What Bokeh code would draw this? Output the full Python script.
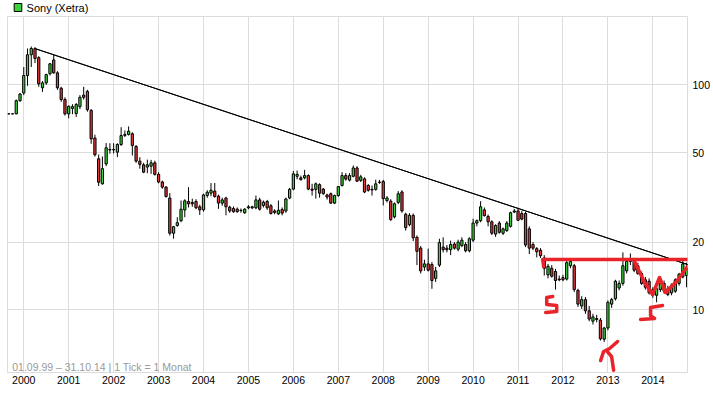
from bokeh.plotting import figure
from bokeh.layouts import column
from bokeh.models import (ColumnDataSource, Range1d, FixedTicker, PrintfTickFormatter,
                          Label, PolyAnnotation)
from bokeh.core.properties import value
from bokeh.embed import file_html
from bokeh.resources import INLINE

# ---------------- data (monthly candles, Sony on Xetra, EUR) ----------------
TITLE = "Sony (Xetra)"
START_YEAR = 1999
START_MONTH = 9   # first candle: September 1999

opens = [74.3, 74.3, 74.3, 85,
         92, 110, 136, 145, 132, 97, 102, 112, 129, 113, 96.6, 86,
         74.3, 78.5, 74.5, 80, 90, 93.5, 77, 58, 46.9, 36.3, 44.5, 51.3,
         51.6, 50.2, 54.3, 59.6, 60.2, 60.6, 53.2, 45.8, 44.1, 43.1, 43.5, 45,
         40, 37, 35.1, 31.4, 21.9, 23.7, 24.9, 27.8, 30.3, 30, 30.3, 28.7,
         27.8, 32.2, 33, 33.7, 32, 29.8, 31.4, 28.6, 28.2, 28, 27.6, 27,
         28.4, 28.4, 28.4, 30.8, 29.1, 30.3, 29, 27.5, 26.7, 27.9, 27.5, 31.4,
         34.4, 39.2, 38.6, 38.6, 39.5, 34.4, 34.3, 36, 34.4, 32.4, 32.8, 29.8,
         32.2, 35.7, 39.5, 37.7, 39.2, 42.7, 37.6, 38.2, 35.7, 34.1, 34.3, 36.8,
         37.2, 30.6, 30.4, 25.9, 30, 33.4, 26.6, 23.9, 26.3, 21, 18.8, 15.5,
         16, 15.9, 13.8, 15.8, 19, 18.8, 18.5, 19.6, 18.6, 19.3, 19.5, 18.3,
         20.4, 24.3, 24.9, 27.8, 26, 24.6, 21.7, 24.3, 21.9, 22.5, 23.5, 27.2,
         27.5, 26.8, 26.8, 22.9, 19.5, 18.7, 18.4, 17, 14.3, 15.3, 14.8, 13.7,
         13.9, 13.7, 15.7, 15.7, 12.2, 10.4, 11.1, 9.9, 8.9, 9.15, 9, 7.4,
         8.3, 10.6, 11.2, 12.5, 13.1, 14.9, 16.4, 16.4, 15.7, 14.5, 13.6, 13.4,
         12.3, 11.6, 12.3, 13.1, 12.4, 11.9, 12.1, 13.1, 14, 14.2]
highs = [74.6, 74.6, 86, 92,
         120, 145, 148, 147, 134, 104, 112, 125, 136, 115, 98, 88,
         81, 82, 83, 90, 98, 95, 78, 60, 49, 48, 55.1, 55,
         55, 55, 64.8, 62.7, 65.3, 61.5, 54, 47.7, 45, 46.5, 46.4, 46,
         40.9, 37.5, 35.5, 33, 23.6, 25.8, 30.6, 31, 35.1, 31.2, 31, 29.3,
         32.8, 34, 36.6, 36.6, 32.5, 31.5, 31.8, 29, 28.8, 28.5, 28.2, 28.3,
         29.2, 29, 32.2, 31.5, 30.6, 30.8, 29.5, 28, 30.6, 28.5, 31.5, 34.8,
         41.4, 41.6, 39.5, 41.9, 40, 36.3, 36.8, 36.5, 34.8, 32.8, 33.2, 32.5,
         35.5, 40.9, 40.5, 40.5, 43.8, 43.5, 39.8, 38.8, 36.2, 35.7, 37.9, 37.8,
         37.8, 32, 31, 30, 33.7, 34, 27, 26.9, 26.8, 21.4, 19.2, 16.7,
         18.7, 16.3, 15.5, 20.7, 21, 19.4, 20.3, 20, 20.5, 21, 20, 21,
         25.4, 25.2, 30.4, 28.5, 26.5, 25, 24, 24.8, 23.2, 24.8, 27.3, 28.1,
         28.4, 27.5, 27.2, 23.5, 20, 19, 18.8, 17.5, 16, 15.8, 15.2, 14.2,
         14.3, 16.6, 16.8, 16, 12.4, 11.5, 11.4, 10.4, 9.6, 9.5, 9.2, 8.4,
         11, 11.3, 13.6, 13.5, 18, 16.6, 17.8, 16.8, 16.2, 14.8, 14, 13.8,
         12.6, 12.6, 13.3, 13.5, 12.8, 13.1, 13.8, 14.6, 16.5, 16.2]
lows = [74.0, 74.0, 74, 84,
        90, 99, 120, 125, 98, 93, 100, 110, 112, 95, 84, 73,
        71, 74, 72, 78, 86, 76, 54.7, 48, 35.5, 36, 43.5, 49.4,
        49.5, 47.7, 53.5, 58.6, 59.5, 48.5, 45, 42.4, 40.5, 40.5, 40.2, 39.5,
        36.5, 34.5, 31.5, 21.4, 20.7, 23.4, 24.5, 25.8, 28.5, 28.7, 28, 26.4,
        27.3, 31.5, 32, 31.5, 28.1, 29, 26.3, 27, 27, 27, 27, 26.7,
        28, 28, 28, 27.6, 28.5, 27.8, 26.5, 26.6, 26.4, 26.3, 27, 31,
        34, 38, 37.5, 38, 34, 32.2, 31.2, 31.5, 32.5, 30.9, 29.5, 29.5,
        31.8, 35.3, 37.5, 37.2, 38.8, 37, 37, 33, 33.5, 32.2, 33.8, 36.3,
        29.1, 30, 24.8, 25.5, 29.5, 27, 22.5, 23.5, 20.2, 15.8, 14.5, 14.9,
        14.8, 12.4, 13.3, 15.5, 18, 18, 17.5, 18.5, 18.2, 19, 18, 18,
        20, 23.5, 24.5, 26, 23.5, 21.5, 21.1, 21.8, 21.5, 22.2, 23.2, 26.9,
        24.8, 25, 19, 17.7, 18.4, 17.1, 17, 14.2, 13.8, 13.9, 12.3, 13.4,
        13.4, 13.5, 15.3, 12, 10.3, 10.1, 9.6, 8.9, 8.6, 8.8, 7.3, 7.2,
        8.1, 10.2, 11, 12.2, 12.8, 14.5, 15.8, 14.7, 14.3, 12.9, 12.3, 11.7,
        11.3, 10.8, 12, 11.8, 11.5, 11.6, 11.9, 12.8, 13.8, 12.6]
closes = [74.3, 74.3, 85, 91,
          110, 136, 145, 131, 101, 102, 111, 124, 113, 97, 86, 74.3,
          80.3, 80, 81.7, 88, 88, 77.5, 57.5, 48.9, 36.9, 42.4, 52.5, 51.6,
          51.4, 54.3, 59.5, 60.2, 62.2, 53.7, 45.8, 44.3, 40.9, 44.1, 45, 40,
          37, 35.1, 31.9, 21.9, 23.4, 24.4, 28, 30.5, 29.6, 29.6, 28.4, 27.8,
          32.4, 33.3, 34, 31.9, 29.8, 30.8, 28.7, 27.5, 27.3, 27.3, 27.7, 28,
          28.7, 28.7, 30.8, 28, 30.1, 28.4, 26.8, 27.1, 27.7, 26.9, 31.1, 34.3,
          40.2, 40, 37.9, 39.5, 34.4, 34, 36.3, 33, 32.8, 31.7, 29.8, 32.2,
          35.3, 39.5, 38.1, 39.5, 42.7, 37.3, 39, 33.4, 34, 34.3, 36.3, 37,
          31.2, 31.4, 25.2, 29.6, 32.8, 27.5, 23.2, 26.3, 20.9, 18.2, 14.9, 16,
          15, 13.5, 14.9, 19.9, 18.5, 18.5, 19.5, 18.8, 20, 20.4, 18.3, 20.7,
          24.3, 24.9, 28.7, 26.2, 24.6, 21.9, 23.7, 22.1, 22.9, 24.3, 27, 27.5,
          25, 25.3, 19.4, 18.8, 18.8, 18.1, 17.4, 15.3, 15.6, 14.1, 13.5, 13.6,
          13.6, 16.2, 16.4, 12.3, 10.6, 11.1, 9.9, 9.1, 9.3, 9.05, 7.43, 8.3,
          10.8, 11.1, 13.4, 13.1, 15.7, 16.4, 16.5, 15, 14.5, 13.1, 12.6, 11.9,
          11.6, 12.4, 13.1, 12.1, 11.7, 12.9, 13.6, 14.4, 16, 15.3]

YEAR_TICKS = list(range(2000, 2015))
PRICE_TICKS = [10, 20, 50, 100]

# hand-drawn chart markings (year, price)
TREND_YEARS = [2000.244, 2015.333]
TREND_PRICES = [145.0, 14.6]
RESIST_YEARS = [2011.57, 2011.549, 2014.771, 2015.104]
RESIST_PRICES = [15.57, 16.73, 16.73, 17.25]
W_YEARS = [2013.571, 2013.816, 2013.993, 2014.149, 2014.282, 2014.527, 2014.771]
W_PRICES = [16.73, 13.22, 11.70, 13.92, 11.94, 13.36, 15.57]
S1_YEARS = [2011.771, 2011.638, 2011.638, 2011.860, 2011.860, 2011.616]
S1_PRICES = [11.46, 11.34, 10.56, 10.45, 9.83, 9.73]
S2_YEARS = [2014.216, 2013.949, 2013.949, 2014.038, 2013.727]
S2_PRICES = [10.45, 10.24, 9.43, 9.15, 9.06]
K1_YEARS = [2012.838, 2012.904, 2013.038, 2013.216]
K1_PRICES = [5.95, 6.53, 6.73, 7.23]
K2_YEARS = [2012.971, 2013.082, 2013.127]
K2_PRICES = [6.59, 6.20, 5.39]

GREEN = "#3cd23c"
RED = "#e43a3a"
MARK_RED = "#e8232a"
GRID = "#dcdcdc"

n = len(opens)
xs = [START_YEAR + (START_MONTH - 1 + i) / 12 for i in range(n)]
src = ColumnDataSource(dict(
    x=xs,
    top=[max(o, c) for o, c in zip(opens, closes)],
    bottom=[min(o, c) for o, c in zip(opens, closes)],
    high=highs, low=lows,
    color=[GREEN if c >= o else RED for o, c in zip(opens, closes)],
))

# ---------------- header strip (legend square + title) ----------------
head = figure(width=713, height=15, x_range=Range1d(0, 713), y_range=Range1d(15, 0),
              output_backend="svg", toolbar_location=None,
              x_axis_location=None, y_axis_location=None,
              min_border_left=0, min_border_right=0, min_border_top=0, min_border_bottom=0,
              background_fill_color="white", border_fill_color="white")
head.outline_line_color = None
head.xgrid.visible = False
head.ygrid.visible = False
head.rect(x=[11], y=[7], width=8, height=8, fill_color=GREEN, line_color="black", line_width=1)
head.text(x=[20], y=[7.5], text=[TITLE], text_font=value("Liberation Sans"),
          text_font_size="11px", text_baseline="middle", text_color="black")

# ---------------- main chart ----------------
p = figure(width=713, height=382,
           x_range=Range1d(1999.638, 2014.771), y_range=Range1d(5.265, 201.2),
           y_axis_type="log", y_axis_location="right",
           output_backend="svg", toolbar_location=None,
           min_border_left=7, min_border_right=25, min_border_top=1, min_border_bottom=25,
           background_fill_color="white", border_fill_color="white")

p.outline_line_color = GRID
p.outline_line_width = 1
p.xgrid.ticker = FixedTicker(ticks=YEAR_TICKS)
p.ygrid.ticker = FixedTicker(ticks=PRICE_TICKS)
for g in (p.xgrid, p.ygrid):
    g.grid_line_color = GRID
    g.grid_line_width = 1
    g.minor_grid_line_color = None

for ax in (p.xaxis, p.yaxis):
    ax.axis_line_color = None
    ax.major_tick_line_color = None
    ax.minor_tick_line_color = None
    ax.major_tick_out = 0
    ax.major_tick_in = 0
    ax.minor_tick_out = 0
    ax.minor_tick_in = 0
    ax.major_label_text_font = "Liberation Sans"
    ax.major_label_text_font_size = "10.5px"
    ax.major_label_text_color = "black"
p.xaxis.ticker = FixedTicker(ticks=YEAR_TICKS)
p.xaxis.formatter = PrintfTickFormatter(format="%d")
p.xaxis.major_label_standoff = 3
p.yaxis.ticker = FixedTicker(ticks=PRICE_TICKS)
p.yaxis.formatter = PrintfTickFormatter(format="%d")
p.yaxis.major_label_standoff = 5

p.segment(x0="x", y0="high", x1="x", y1="low", source=src, line_color="black", line_width=1)
p.vbar(x="x", width=0.05, top="top", bottom="bottom", source=src,
       fill_color="color", line_color="black", line_width=1)


def polyline(xv, yv, color, width):
    # an out-and-back outline draws as an open polyline
    p.add_layout(PolyAnnotation(xs=list(xv) + list(xv[::-1]), ys=list(yv) + list(yv[::-1]),
                                fill_color=None, fill_alpha=0, line_color=color,
                                line_alpha=1, line_width=width,
                                line_cap="round", line_join="round"))


polyline(TREND_YEARS, TREND_PRICES, "black", 1)
polyline(RESIST_YEARS, RESIST_PRICES, MARK_RED, 3.5)
polyline(W_YEARS, W_PRICES, MARK_RED, 3.5)
polyline(S1_YEARS, S1_PRICES, MARK_RED, 3.5)
polyline(S2_YEARS, S2_PRICES, MARK_RED, 3.5)
polyline(K1_YEARS, K1_PRICES, MARK_RED, 3.5)
polyline(K2_YEARS, K2_PRICES, MARK_RED, 3.5)

p.add_layout(Label(x=4.7, y=5.3, x_units="screen", y_units="screen",
                   text="01.09.99 \u2013 31.10.14 | 1 Tick = 1 Monat",
                   text_font="Liberation Sans", text_font_size="10.5px",
                   text_baseline="middle", text_color="#9a9a9a"))

layout = column(head, p, spacing=0)
open("out.html", "w").write(file_html(layout, INLINE))
